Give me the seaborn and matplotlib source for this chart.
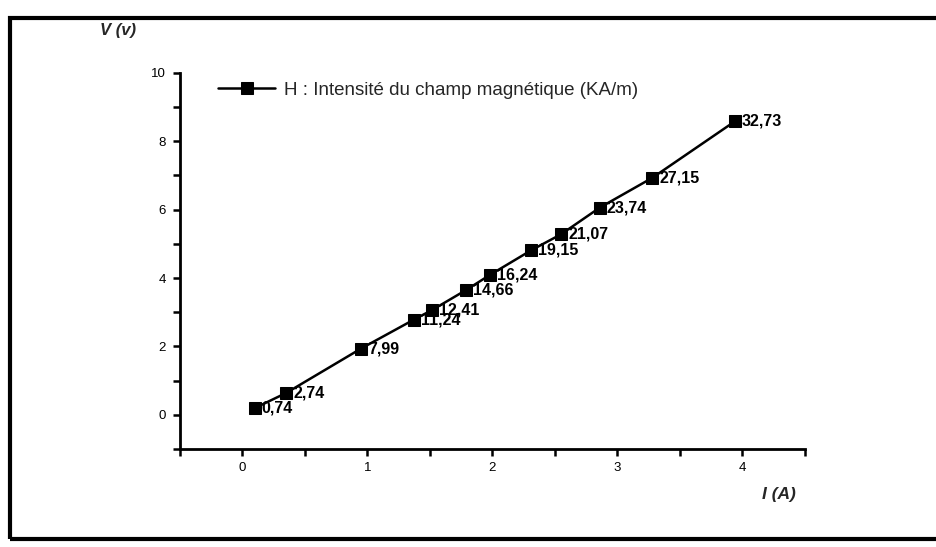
import pandas as pd
import seaborn as sns
import matplotlib.pyplot as plt
from matplotlib.ticker import MultipleLocator
from matplotlib.patches import Rectangle

# values
courant = [0.10, 0.35, 0.95, 1.37, 1.52, 1.79, 1.98, 2.31, 2.55, 2.86, 3.28, 3.94]
tension = [0.20, 0.64, 1.94, 2.78, 3.07, 3.65, 4.09, 4.81, 5.28, 6.06, 6.93, 8.58]
champ_h = ["0,74", "2,74", "7,99", "11,24", "12,41", "14,66", "16,24",
           "19,15", "21,07", "23,74", "27,15", "32,73"]
legend_label = "H : Intensité du champ magnétique (KA/m)"

df = pd.DataFrame({"I": courant, "V": tension, "H": champ_h})

sns.set_style("ticks")
plt.rcParams['font.family'] = ['Liberation Sans', 'DejaVu Sans']

fig = plt.figure(figsize=(9.37, 5.47), dpi=100)
ax = fig.add_axes([0.192, 0.179, 0.667, 0.688])

sns.lineplot(data=df, x="I", y="V", ax=ax, color="black", linewidth=1.8,
             marker="s", markersize=8, markeredgecolor="black",
             label=legend_label, sort=False)

# H values next to each point
for _, row in df.iterrows():
    ax.annotate(row["H"], (row["I"], row["V"]), xytext=(5, 0),
                textcoords="offset points", ha="left", va="center",
                fontsize=11.5, fontweight="bold", color="black")

ax.set_xlim(-0.5, 4.5)
ax.set_ylim(-1, 10)
ax.set_xticks([0, 1, 2, 3, 4])
ax.set_yticks([0, 2, 4, 6, 8, 10])
ax.xaxis.set_minor_locator(MultipleLocator(0.5))
ax.yaxis.set_minor_locator(MultipleLocator(1))
ax.tick_params(which="both", direction="out", color="black", width=1.8,
               labelsize=9.5, labelcolor="black")
ax.tick_params(axis="x", which="both", length=5, pad=4)
ax.tick_params(axis="y", which="both", length=5, pad=5)

sns.despine(ax=ax)
for side in ["left", "bottom"]:
    ax.spines[side].set_linewidth(2)
    ax.spines[side].set_color("black")

ax.set_xlabel("")
ax.set_ylabel("")
fig.text(100 / 937, 1 - 31 / 547, "V (v)", fontsize=12, fontweight="bold",
         fontstyle="italic", va="center", ha="left")
fig.text(762 / 937, 1 - 494 / 547, "I (A)", fontsize=12.5, fontweight="bold",
         fontstyle="italic", va="center", ha="left")

leg = ax.legend(loc="upper left", bbox_to_anchor=(211 / 937, 1 - 74 / 547),
                bbox_transform=fig.transFigure, frameon=False, fontsize=13.5,
                handlelength=3, handletextpad=0.5, borderaxespad=0)

# scanned frame around the chart
fig.patches.append(Rectangle((10 / 937, 1 - 539 / 547), 1.0, 521 / 547,
                             transform=fig.transFigure, fill=False,
                             edgecolor="black", linewidth=3))

fig.savefig("out.png", dpi=100)
